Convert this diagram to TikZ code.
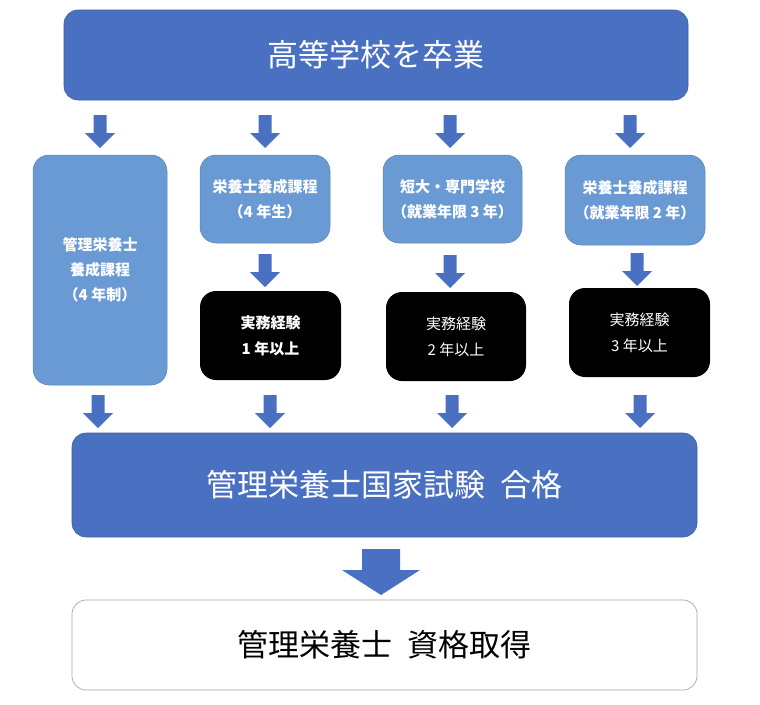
\documentclass[tikz,border=0pt]{standalone}
\usepackage{fontspec}
\setmainfont{Noto Sans CJK JP}
\newfontfamily\jpfont{Noto Sans CJK JP}
\usetikzlibrary{positioning}
\definecolor{dblue}{HTML}{4A70C1}
\definecolor{lblue}{HTML}{6A9AD3}
\definecolor{gborder}{HTML}{A6A6A6}
\tikzset{
  bigbox/.style={fill=dblue, draw=dblue!85!black, line width=0.6pt, rounded corners=14pt, text=white, font=\jpfont\fontsize{31}{36}\selectfont},
  midbox/.style={fill=lblue, draw=lblue!85!black, line width=0.5pt, rounded corners=16pt, text=white, align=center, font=\jpfont\bfseries\fontsize{15}{25}\selectfont},
  blackbox/.style={fill=black, rounded corners=16pt, text=white, align=center, font=\jpfont\fontsize{15}{26}\selectfont},
  finalbox/.style={fill=white, draw=gborder, line width=0.7pt, rounded corners=14pt, text=black, font=\jpfont\fontsize{31}{36}\selectfont},
  barrow/.style={fill=dblue, draw=none}
}
% block arrow: x center, y top, y tip, shaft half width, head half width, head length
\newcommand{\blockarr}[6]{%
  \fill[barrow] (#1-#4,#2) -- (#1+#4,#2) -- (#1+#4,#3-#6) -- (#1+#5,#3-#6) -- (#1,#3) -- (#1-#5,#3-#6) -- (#1-#4,#3-#6) -- cycle;}
\begin{document}
\begin{tikzpicture}[x=1pt,y=-1pt]
\useasboundingbox (0,0) rectangle (760,704);
\fill[white] (0,0) rectangle (760,704);

\node[bigbox, minimum width=624pt, minimum height=90pt] (top) at (376,55) {高等学校を卒業};

\node[midbox, minimum width=134pt, minimum height=230pt] (c1) at (100,270) {管理栄養士\\養成課程\\（4 年制）};
\node[midbox, minimum width=130pt, minimum height=88pt] (c2) at (265,199) {栄養士養成課程\\（4 年生）};
\node[midbox, minimum width=139pt, minimum height=88pt] (c3) at (452.5,199) {短大・専門学校\\（就業年限 3 年）};
\node[midbox, minimum width=140pt, minimum height=90pt] (c4) at (635,200) {栄養士養成課程\\（就業年限 2 年）};

\node[blackbox, minimum width=141pt, minimum height=89pt, font=\jpfont\bfseries\fontsize{15}{26}\selectfont] (b2) at (270.5,335.5) {実務経験\\1 年以上};
\node[blackbox, minimum width=140pt, minimum height=89pt] (b3) at (456,336.5) {実務経験\\2 年以上};
\node[blackbox, minimum width=141pt, minimum height=89pt] (b4) at (639.5,332.5) {実務経験\\3 年以上};

\node[bigbox, minimum width=625pt, minimum height=104pt] (exam) at (384.5,485) {管理栄養士国家試験\hspace{0.5em}合格};
\node[finalbox, minimum width=625pt, minimum height=90pt] (final) at (384.5,645) {管理栄養士\hspace{0.5em}資格取得};

% row 1 arrows
\blockarr{100}{115}{148}{6.5}{15}{15}
\blockarr{265}{115}{148}{6.5}{15}{15}
\blockarr{450}{115}{148}{6.5}{15}{15}
\blockarr{630}{115}{148}{6.5}{15}{15}
% row 2 arrows
\blockarr{265}{254}{287}{6.5}{15}{15}
\blockarr{450}{255}{288}{6.5}{15}{15}
\blockarr{637}{253}{286}{6.5}{15}{15}
% row 3 arrows
\blockarr{98}{395}{428}{6.5}{15}{15}
\blockarr{270}{395}{428}{6.5}{15}{15}
\blockarr{452}{395}{428}{6.5}{15}{15}
\blockarr{640}{395}{428}{6.5}{15}{15}
% big arrow
\blockarr{381}{549}{595}{19}{39}{25}
\end{tikzpicture}
\end{document}
